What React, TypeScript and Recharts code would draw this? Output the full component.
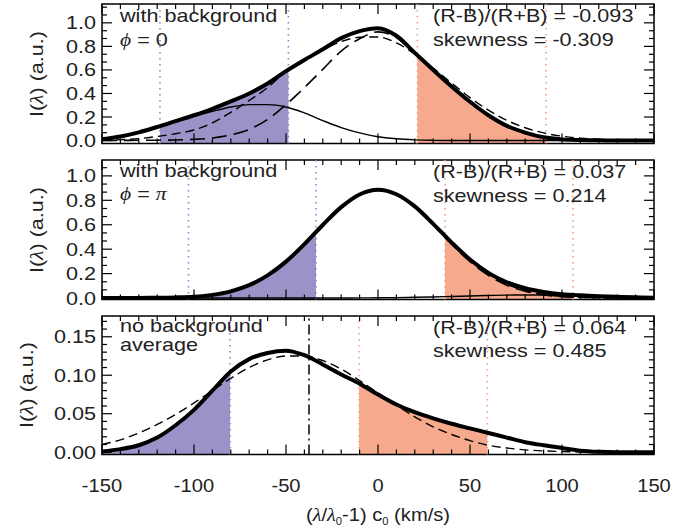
import React from 'react';
import { ComposedChart, Line, Area, XAxis, YAxis, ReferenceLine, ReferenceArea } from 'recharts';

const W = 699;
const H = 529;
const PLOT_L = 102;
const PLOT_R = 654;

// shared velocity grid (km/s) and x ticks
const X = [-150, -140, -130, -120, -110, -100, -90, -80, -70, -60, -50, -40, -30, -20, -10, 0,
  10, 20, 30, 40, 50, 60, 70, 80, 90, 100, 110, 120, 130, 140, 150];
const X_MAJOR = [-150, -100, -50, 0, 50, 100, 150];

// panel 1: with background, phi = 0
const P1_TOTAL = [0.012, 0.035, 0.07, 0.115, 0.165, 0.215, 0.27, 0.333, 0.40, 0.485, 0.59, 0.685, 0.775, 0.87, 0.93, 0.955,
  0.89, 0.745, 0.60, 0.46, 0.33, 0.215, 0.125, 0.068, 0.028, 0.01, 0.004, 0.002, 0.001, 0, 0];
const P1_SECOND = [0.012, 0.034, 0.068, 0.112, 0.16, 0.205, 0.248, 0.285, 0.305, 0.305, 0.285, 0.235, 0.17, 0.11, 0.065, 0.032,
  0.015, 0.006, 0.002, 0, 0, 0, 0, 0, 0, 0, 0, 0, 0, 0, 0];
const P1_MAIN = [0, 0.001, 0.002, 0.003, 0.005, 0.01, 0.022, 0.048, 0.095, 0.18, 0.305, 0.45, 0.605, 0.76, 0.865, 0.923,
  0.875, 0.739, 0.598, 0.46, 0.33, 0.215, 0.125, 0.068, 0.028, 0.01, 0.004, 0.002, 0.001, 0, 0];
const P1_FIT = [0.003, 0.007, 0.016, 0.035, 0.058, 0.09, 0.15, 0.24, 0.34, 0.45, 0.585, 0.69, 0.77, 0.84, 0.878, 0.88,
  0.83, 0.735, 0.615, 0.488, 0.365, 0.258, 0.172, 0.109, 0.065, 0.037, 0.02, 0.01, 0.005, 0.002, 0.001];
const P1_EDGE_X = [-118.5, -48.7, 21.4, 91.3];
const P1_EDGE_TOTAL = [0.122, 0.602, 0.725, 0.026];
const P1_BLUE = [-118.5, -48.7];
const P1_RED = [21.4, 91.3];

// panel 2: with background, phi = pi
const P2_TOTAL = [0, 0, 0.001, 0.002, 0.005, 0.011, 0.026, 0.055, 0.105, 0.185, 0.298, 0.441, 0.598, 0.744, 0.848, 0.887,
  0.85, 0.75, 0.607, 0.454, 0.315, 0.206, 0.129, 0.08, 0.05, 0.032, 0.022, 0.015, 0.01, 0.006, 0.003];
const P2_BKG = [0, 0, 0, 0, 0, 0, 0, 0, 0, 0, 0, 0, 0, 0, 0.001, 0.002,
  0.003, 0.006, 0.009, 0.013, 0.017, 0.021, 0.024, 0.025, 0.024, 0.021, 0.017, 0.013, 0.009, 0.006, 0.003];
const P2_MAIN = [0, 0, 0.001, 0.002, 0.005, 0.011, 0.026, 0.055, 0.105, 0.185, 0.298, 0.441, 0.598, 0.744, 0.847, 0.885,
  0.847, 0.744, 0.598, 0.441, 0.298, 0.185, 0.105, 0.055, 0.026, 0.011, 0.005, 0.002, 0.001, 0, 0];
const P2_FIT = [0, 0, 0.001, 0.003, 0.006, 0.013, 0.028, 0.057, 0.106, 0.184, 0.295, 0.436, 0.592, 0.738, 0.843, 0.88,
  0.851, 0.754, 0.612, 0.457, 0.313, 0.197, 0.113, 0.06, 0.029, 0.013, 0.005, 0.002, 0.001, 0, 0];
const P2_EDGE_X = [-103, -33.7, 36.4, 106];
const P2_EDGE_TOTAL = [0.009, 0.54, 0.51, 0.026];
const P2_BLUE = [-103, -33.7];
const P2_RED = [36.4, 106];

// panel 3: no background, average
const P3_TOTAL = [0.001, 0.004, 0.009, 0.019, 0.035, 0.055, 0.08, 0.105, 0.121, 0.129, 0.132, 0.126, 0.114, 0.101, 0.089, 0.075,
  0.062, 0.052, 0.044, 0.037, 0.031, 0.025, 0.019, 0.013, 0.009, 0.0055, 0.002, 0.0005, 0, 0, 0];
const P3_FIT = [0.010, 0.016, 0.025, 0.036, 0.049, 0.064, 0.080, 0.096, 0.110, 0.120, 0.125, 0.125, 0.119, 0.108, 0.093, 0.077,
  0.061, 0.046, 0.033, 0.023, 0.015, 0.009, 0.0055, 0.003, 0.0017, 0.0009, 0.0004, 0.0002, 0, 0, 0];
const P3_EDGE_X = [-80.4, -10.3, 59.4];
const P3_EDGE_TOTAL = [0.104, 0.0894, 0.0254];
const P3_BLUE = [-150, -80.4];
const P3_RED = [-10.3, 59.4];
const P3_CENTROID = -37.5;

// y ticks
const Y_TICKS_A = [0, 0.067, 0.133, 0.2, 0.267, 0.333, 0.4, 0.467, 0.533, 0.6, 0.667, 0.733, 0.8, 0.867, 0.933, 1.0, 1.067, 1.133];
const Y_TICKS_B = [0, 0.067, 0.133, 0.2, 0.267, 0.333, 0.4, 0.467, 0.533, 0.6, 0.667, 0.733, 0.8, 0.867, 0.933, 1.0, 1.067];
const Y_MAJOR_AB = [0, 0.2, 0.4, 0.6, 0.8, 1.0];
const Y_TICKS_C = [0, 0.01, 0.02, 0.03, 0.04, 0.05, 0.06, 0.07, 0.08, 0.09, 0.1, 0.11, 0.12, 0.13, 0.14, 0.15, 0.16, 0.17];
const Y_MAJOR_C = [0, 0.05, 0.1, 0.15];

const BLUE_FILL = '#9993c7';
const RED_FILL = '#f6a98d';
const BLUE_DOT = '#8a84cc';
const RED_DOT = '#f3a083';
const FONT = '"Liberation Sans", Arial, Helvetica, sans-serif';
const GREEK = '"Liberation Serif", "DejaVu Serif", serif';
const TXT = '#222';

const isIn = (v: number, list: number[]) => list.some(m => Math.abs(m - v) < 1e-6);

// grid rows carry the curves; edge rows only feed the shaded areas
function buildRows(series: Record<string, number[]>, edgeX: number[], edgeTotal: number[], blue: number[], red: number[]) {
  const inside = (x: number, r: number[]) => x >= r[0] - 1e-9 && x <= r[1] + 1e-9;
  const rows: any[] = X.map((x, i) => {
    const row: any = { x };
    Object.keys(series).forEach(k => { row[k] = series[k][i]; });
    row.blue = inside(x, blue) ? row.total : null;
    row.red = inside(x, red) ? row.total : null;
    return row;
  });
  edgeX.forEach((x, i) => {
    rows.push({
      x,
      blue: inside(x, blue) ? edgeTotal[i] : null,
      red: inside(x, red) ? edgeTotal[i] : null,
    });
  });
  rows.sort((a, b) => a.x - b.x);
  return rows;
}

function WideText({ x, y, anchor = 'start', sx = 1.2, children }: any) {
  return (
    <g transform={`translate(${x},${y}) scale(${sx},1)`}>
      <text x={0} y={0} textAnchor={anchor} fontSize={18} fontFamily={FONT} fill={TXT}>{children}</text>
    </g>
  );
}

function makeYTick(major: number[], digits: number) {
  return (props: any) => {
    const { y, payload } = props;
    const v = payload.value;
    const big = isIn(v, major);
    const len = big ? 10 : 5;
    return (
      <g>
        <line x1={PLOT_L} x2={PLOT_L + len} y1={y} y2={y} stroke="#000" strokeWidth={1.2} />
        <line x1={PLOT_R} x2={PLOT_R - len} y1={y} y2={y} stroke="#000" strokeWidth={1.2} />
        {big && <WideText x={PLOT_L - 6} y={y + 6.5} anchor="end">{v.toFixed(digits)}</WideText>}
      </g>
    );
  };
}

function makeXTick(top: number, bottom: number, labels: boolean) {
  return (props: any) => {
    const { x, payload } = props;
    const v = payload.value;
    const big = isIn(v, X_MAJOR);
    const len = big ? 10 : 5;
    return (
      <g>
        <line x1={x} x2={x} y1={bottom} y2={bottom - len} stroke="#000" strokeWidth={1.2} />
        <line x1={x} x2={x} y1={top} y2={top + len} stroke="#000" strokeWidth={1.2} />
        {labels && big && <WideText x={x} y={bottom + 37} anchor="middle" sx={1.12}>{String(v)}</WideText>}
      </g>
    );
  };
}

interface PanelProps {
  top: number;
  bottom: number;
  domain: [number, number];
  yTicks: number[];
  yMajor: number[];
  digits: number;
  rows: any[];
  blue: number[];
  red: number[];
  xLabels?: boolean;
  thin?: boolean;
  long?: boolean;
  centroid?: number;
}

function Panel({ top, bottom, domain, yTicks, yMajor, digits, rows, blue, red, xLabels = false, thin = false, long = false, centroid }: PanelProps) {
  const dots = [
    ...blue.filter(v => v > -150).map(v => ({ v, c: BLUE_DOT })),
    ...red.map(v => ({ v, c: RED_DOT })),
  ];
  return (
    <div style={{ position: 'absolute', left: 0, top: 0 }}>
      <ComposedChart width={W} height={H} data={rows}
        margin={{ top, right: W - PLOT_R, bottom: H - bottom - 2, left: PLOT_L - 2 }}>
        <XAxis dataKey="x" type="number" domain={[-150, 150]} ticks={X} interval={0} allowDataOverflow
          tick={makeXTick(top, bottom, xLabels)} tickLine={false} axisLine={false} tickSize={0} tickMargin={0} height={2} />
        <YAxis type="number" domain={domain} ticks={yTicks} interval={0} allowDataOverflow
          tick={makeYTick(yMajor, digits)} tickLine={false} axisLine={false} tickSize={0} tickMargin={0} width={2} />
        <Area dataKey="blue" type="monotone" baseValue={domain[0]} stroke="none" fill={BLUE_FILL} fillOpacity={1}
          isAnimationActive={false} dot={false} activeDot={false} />
        <Area dataKey="red" type="monotone" baseValue={domain[0]} stroke="none" fill={RED_FILL} fillOpacity={1}
          isAnimationActive={false} dot={false} activeDot={false} />
        {dots.map(d => (
          <ReferenceLine key={d.v} x={d.v} stroke={d.c} strokeWidth={1.6} strokeDasharray="1.5 4.5" />
        ))}
        {centroid !== undefined && (
          <ReferenceLine x={centroid} stroke="#000" strokeWidth={1.5} strokeDasharray="10 4 2 4" />
        )}
        {thin && <Line dataKey="thin" type="monotone" stroke="#000" strokeWidth={1.4} dot={false} activeDot={false} connectNulls isAnimationActive={false} />}
        {long && <Line dataKey="long" type="monotone" stroke="#000" strokeWidth={1.6} strokeDasharray="15 7" dot={false} activeDot={false} connectNulls isAnimationActive={false} />}
        <Line dataKey="fit" type="monotone" stroke="#000" strokeWidth={1.4} strokeDasharray="9 5" dot={false} activeDot={false} connectNulls isAnimationActive={false} />
        <Line dataKey="total" type="monotone" stroke="#000" strokeWidth={4} dot={false} activeDot={false} connectNulls isAnimationActive={false} />
        <ReferenceArea x1={-150} x2={150} y1={domain[0]} y2={domain[1]} fill="none" stroke="#000" strokeWidth={1.5} ifOverflow="visible" />
      </ComposedChart>
    </div>
  );
}

function YTitle({ x, cy }: { x: number; cy: number }) {
  return (
    <g transform={`translate(${x},${cy}) rotate(-90) scale(1.2,1)`}>
      <text x={0} y={0} textAnchor="middle" fontSize={18} fontFamily={FONT} fill={TXT}>
        I(<tspan fontFamily={GREEK} fontStyle="italic">λ</tspan>) (a.u.)
      </text>
    </g>
  );
}

export default function App() {
  const rows1 = buildRows({ total: P1_TOTAL, thin: P1_SECOND, long: P1_MAIN, fit: P1_FIT }, P1_EDGE_X, P1_EDGE_TOTAL, P1_BLUE, P1_RED);
  const rows2 = buildRows({ total: P2_TOTAL, thin: P2_BKG, long: P2_MAIN, fit: P2_FIT }, P2_EDGE_X, P2_EDGE_TOTAL, P2_BLUE, P2_RED);
  const rows3 = buildRows({ total: P3_TOTAL, fit: P3_FIT }, P3_EDGE_X, P3_EDGE_TOTAL, P3_BLUE, P3_RED);

  return (
    <div style={{ position: 'absolute', left: 0, top: 0, width: W, height: H, background: '#fff', overflow: 'hidden' }}>
      <Panel top={4} bottom={143.5} domain={[-0.025, 1.16]} yTicks={Y_TICKS_A} yMajor={Y_MAJOR_AB} digits={1}
        rows={rows1} blue={P1_BLUE} red={P1_RED} thin long />
      <Panel top={160} bottom={299.5} domain={[-0.012, 1.13]} yTicks={Y_TICKS_B} yMajor={Y_MAJOR_AB} digits={1}
        rows={rows2} blue={P2_BLUE} red={P2_RED} thin long />
      <Panel top={316} bottom={454.5} domain={[-0.003, 0.177]} yTicks={Y_TICKS_C} yMajor={Y_MAJOR_C} digits={2}
        rows={rows3} blue={P3_BLUE} red={P3_RED} xLabels centroid={P3_CENTROID} />
      <svg width={W} height={H} style={{ position: 'absolute', left: 0, top: 0, pointerEvents: 'none' }}>
        <YTitle x={43} cy={74} />
        <YTitle x={43} cy={230} />
        <YTitle x={33} cy={385} />

        <WideText x={120} y={22}>with background</WideText>
        <WideText x={120} y={46}><tspan fontFamily={GREEK} fontStyle="italic">ϕ</tspan> = 0</WideText>
        <WideText x={433} y={22}>(R-B)/(R+B) = -0.093</WideText>
        <WideText x={433} y={46}>skewness = -0.309</WideText>

        <WideText x={120} y={177}>with background</WideText>
        <WideText x={120} y={200}><tspan fontFamily={GREEK} fontStyle="italic">ϕ</tspan> = <tspan fontFamily={GREEK} fontStyle="italic">π</tspan></WideText>
        <WideText x={433} y={178}>(R-B)/(R+B) = 0.037</WideText>
        <WideText x={433} y={202}>skewness = 0.214</WideText>

        <WideText x={120} y={332}>no background</WideText>
        <WideText x={120} y={351}>average</WideText>
        <WideText x={433} y={334}>(R-B)/(R+B) = 0.064</WideText>
        <WideText x={433} y={357}>skewness = 0.485</WideText>

        <WideText x={378} y={521} anchor="middle" sx={1.12}>
          (<tspan fontFamily={GREEK} fontStyle="italic">λ</tspan>/<tspan fontFamily={GREEK} fontStyle="italic">λ</tspan>
          <tspan fontSize={10} dy={4}>0</tspan><tspan dy={-4}>-1) c</tspan>
          <tspan fontSize={10} dy={4}>0</tspan><tspan dy={-4}> (km/s)</tspan>
        </WideText>
      </svg>
    </div>
  );
}
